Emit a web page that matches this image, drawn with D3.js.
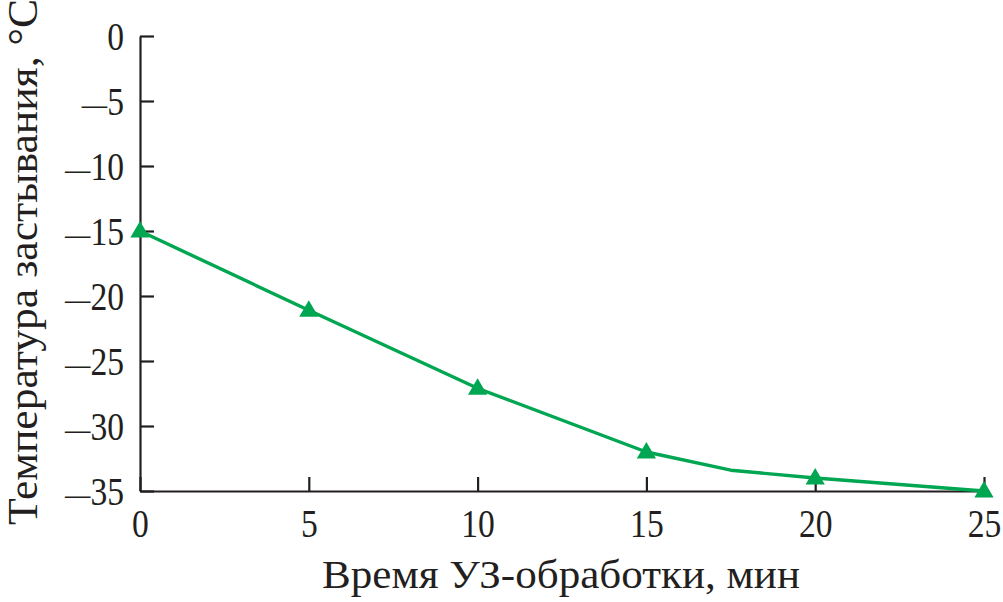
<!DOCTYPE html>
<html>
<head>
<meta charset="utf-8">
<script src="https://cdn.jsdelivr.net/npm/d3@7.9.0/dist/d3.min.js"></script>
<style>
  body { margin: 0; background: #fff; }
  svg { display: block; }
  text { font-family: "Liberation Serif", "DejaVu Serif", serif; fill: #231f20; }
</style>
</head>
<body>
<div id="chart"></div>
<script>
// values
const lineTimes = [0, 5, 10, 15, 17.5, 20, 25];
const lineTemps = [-15, -21.1, -27.1, -32, -33.4, -34, -35];
const markerTimes = [0, 5, 10, 15, 20, 25];
const markerTemps = [-15, -21.1, -27.1, -32, -34, -35];
const xTicks = [0, 5, 10, 15, 20, 25];
const yTicks = [0, -5, -10, -15, -20, -25, -30, -35];
const xTitle = 'Время УЗ-обработки, мин';
const yTitle = 'Температура застывания, °C';

const width = 1003, height = 602;
const margin = { top: 36, right: 19, bottom: 111, left: 140 };
const ink = '#231f20';
const green = '#00a651';
const squeeze = 0.82; // the tick font is narrower than Times

const svg = d3.select('#chart').append('svg')
  .attr('width', width)
  .attr('height', height);

const x = d3.scaleLinear()
  .domain([0, 25])
  .range([margin.left, width - margin.right]);

const y = d3.scaleLinear()
  .domain([-35, 0])
  .range([height - margin.bottom, margin.top]);

// x axis, ticks pointing inward
const xAxis = svg.append('g')
  .attr('transform', `translate(0, ${y(-35)})`)
  .call(d3.axisBottom(x).tickValues(xTicks).tickSize(-14).tickSizeOuter(0));
xAxis.select('.domain').attr('stroke', ink).attr('stroke-width', 2.2);
xAxis.selectAll('.tick line').attr('stroke', ink).attr('stroke-width', 2.2);
xAxis.selectAll('.tick text')
  .attr('y', 0)
  .attr('dy', 0)
  .attr('transform', `translate(0, 46) scale(${squeeze}, 1)`)
  .attr('font-size', 41)
  .attr('fill', ink);

// y axis
const yAxis = svg.append('g')
  .attr('transform', `translate(${x(0)}, 0)`)
  .call(d3.axisLeft(y).tickValues(yTicks).tickSize(-14).tickSizeOuter(0));
yAxis.select('.domain').attr('stroke', ink).attr('stroke-width', 2.2);
yAxis.selectAll('.tick line').attr('stroke', ink).attr('stroke-width', 2.2);
yAxis.selectAll('.tick text')
  .attr('x', 0)
  .attr('dy', '0.32em')
  .attr('transform', `translate(-16, 0) scale(${squeeze}, 1)`)
  .attr('font-size', 41)
  .attr('fill', ink)
  .each(function (d) {
    // long dash for the minus sign, as in the figure
    const t = d3.select(this).text(null);
    if (d < 0) t.append('tspan').attr('font-size', 31).text('—');
    t.append('tspan').text(Math.abs(d));
  });

// titles
svg.append('text')
  .attr('x', 561)
  .attr('y', 588)
  .attr('text-anchor', 'middle')
  .attr('font-size', 39)
  .attr('textLength', 478)
  .attr('lengthAdjust', 'spacingAndGlyphs')
  .text(xTitle);

svg.append('text')
  .attr('transform', `translate(37, 262) rotate(-90)`)
  .attr('text-anchor', 'middle')
  .attr('font-size', 42)
  .attr('textLength', 526)
  .attr('lengthAdjust', 'spacingAndGlyphs')
  .text(yTitle);

// line
const linePts = lineTimes.map((t, i) => [t, lineTemps[i]]);
svg.append('path')
  .datum(linePts)
  .attr('fill', 'none')
  .attr('stroke', green)
  .attr('stroke-width', 3.4)
  .attr('stroke-linejoin', 'round')
  .attr('d', d3.line().x(d => x(d[0])).y(d => y(d[1])));

// triangle markers
const markers = markerTimes.map((t, i) => [t, markerTemps[i]]);
const tri = d3.symbol().type(d3.symbolTriangle).size(160);
svg.append('g')
  .selectAll('path')
  .data(markers)
  .join('path')
  .attr('transform', d => `translate(${x(d[0])}, ${y(d[1]) + 1})`)
  .attr('d', tri)
  .attr('fill', green);
</script>
</body>
</html>
